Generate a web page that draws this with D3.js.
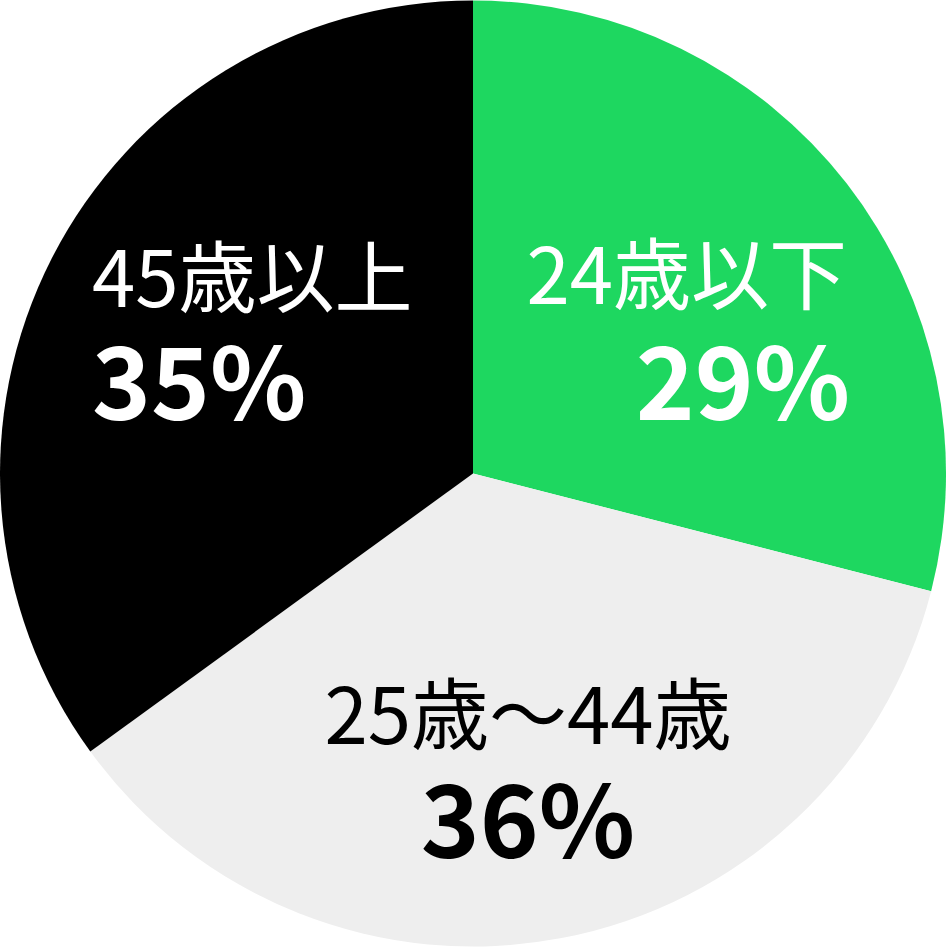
<!DOCTYPE html>
<html><head><meta charset="utf-8">
<script src="https://cdn.jsdelivr.net/npm/d3@7"></script>
<style>html,body{margin:0;padding:0;background:#fff;}svg{display:block;}</style>
</head><body>
<svg id="c" width="946" height="947"></svg>
<script>
const categories = ["24歳以下", "25歳〜44歳", "45歳以上"];
const values = [29, 36, 35];
const percentLabels = ["29%", "36%", "35%"];
const colors = ["#1ed760", "#eeeeee", "#000000"];
const textColors = ["#ffffff", "#000000", "#ffffff"];

const W = 946, H = 947, cx = 473, cy = 473.5, R = 473;
const svg = d3.select("#c");
const g = svg.append("g").attr("transform", `translate(${cx},${cy})`);
const pie = d3.pie().sort(null).value(d => d.v);
const arc = d3.arc().innerRadius(0).outerRadius(R);
const data = categories.map((c, i) => ({c, v: values[i], p: percentLabels[i], col: colors[i], tc: textColors[i]}));
const arcs = pie(data);
g.selectAll("path").data(arcs).enter().append("path")
  .attr("d", arc).attr("fill", d => d.data.col);

const layout = [
  {anchor: "end", x: 847, y1: 304, y2: 420},
  {anchor: "middle", x: 528, y1: 744, y2: 858},
  {anchor: "start", x: 92, y1: 307, y2: 420}
];
const lg = svg.append("g").attr("font-family", "'Noto Sans CJK JP', 'Noto Sans', sans-serif");
arcs.forEach((a, i) => {
  const L = layout[i];
  lg.append("text").attr("x", L.x).attr("y", L.y1).attr("text-anchor", L.anchor)
    .attr("font-size", 78).attr("font-weight", 400).attr("fill", a.data.tc).text(a.data.c);
  lg.append("text").attr("x", L.x + (L.anchor === "end" ? 3 : 0)).attr("y", L.y2).attr("text-anchor", L.anchor)
    .attr("font-size", 100).attr("font-weight", 700).attr("fill", a.data.tc).text(a.data.p);
});
</script>
</body></html>
